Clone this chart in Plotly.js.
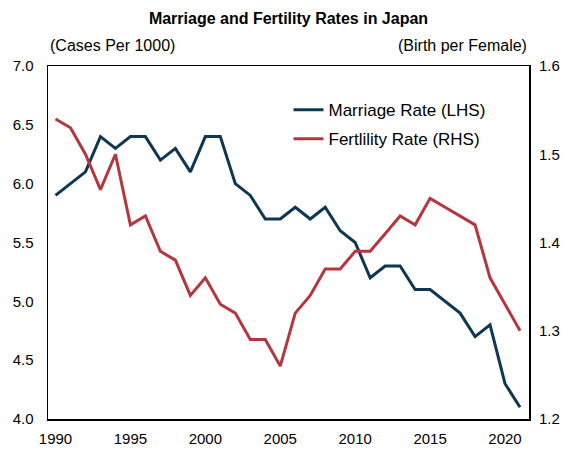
<!DOCTYPE html>
<html>
<head>
<meta charset="utf-8">
<script src="https://cdn.plot.ly/plotly-3.0.1.min.js"></script>
<style>html,body{margin:0;padding:0;background:#fff;}#chart{width:580px;height:455px;}</style>
</head>
<body>
<div id="chart"></div>
<script>
const years = [1990,1991,1992,1993,1994,1995,1996,1997,1998,1999,2000,2001,2002,2003,2004,2005,2006,2007,2008,2009,2010,2011,2012,2013,2014,2015,2016,2017,2018,2019,2020,2021];
const marriageRate = [5.9,6.0,6.1,6.4,6.3,6.4,6.4,6.2,6.3,6.1,6.4,6.4,6.0,5.9,5.7,5.7,5.8,5.7,5.8,5.6,5.5,5.2,5.3,5.3,5.1,5.1,5.0,4.9,4.7,4.8,4.3,4.1];
const fertilityRate = [1.54,1.53,1.50,1.46,1.50,1.42,1.43,1.39,1.38,1.34,1.36,1.33,1.32,1.29,1.29,1.26,1.32,1.34,1.37,1.37,1.39,1.39,1.41,1.43,1.42,1.45,1.44,1.43,1.42,1.36,1.33,1.30];
const xTicks = [1990,1995,2000,2005,2010,2015,2020];
const leftTicks = [4.0,4.5,5.0,5.5,6.0,6.5,7.0];
const rightTicks = [1.2,1.3,1.4,1.5,1.6];

const FONT = 'Liberation Sans, Arial, sans-serif';
const traces = [
  {x: years, y: marriageRate, type: 'scatter', mode: 'lines', name: 'Marriage Rate (LHS)',
   line: {color: '#0f3753', width: 3}, yaxis: 'y', legendgroup: 'a'},
  {x: years, y: fertilityRate, type: 'scatter', mode: 'lines', name: 'Fertlility Rate (RHS)',
   line: {color: '#b5363f', width: 3}, yaxis: 'y2', legendgroup: 'b'}
];
const layout = {
  width: 580, height: 455,
  margin: {l: 48, r: 51, t: 66, b: 36},
  paper_bgcolor: '#fff', plot_bgcolor: '#fff',
  font: {family: FONT, size: 15, color: '#000'},
  title: {text: '<b>Marriage and Fertility Rates in Japan</b>', font: {family: FONT, size: 16, color: '#000'},
          x: 0.5, xref: 'paper', y: 1 - 18/455, yref: 'container', yanchor: 'middle'},
  showlegend: true,
  legend: {x: 0.5, y: 0.926, xanchor: 'left', yanchor: 'top', bgcolor: 'rgba(0,0,0,0)',
           font: {family: FONT, size: 17, color: '#000'}, traceorder: 'grouped', tracegroupgap: 4, itemwidth: 30},
  xaxis: {range: [1989.5, 2021.6], tickvals: xTicks, ticktext: xTicks.map(String), showgrid: false, zeroline: false,
          showline: true, linecolor: '#000', linewidth: 1.5, mirror: true,
          ticks: 'outside', ticklen: 5, tickcolor: 'rgba(0,0,0,0)'},
  yaxis: {range: [4.0, 7.0], tickvals: leftTicks, ticktext: leftTicks.map(v => v.toFixed(1)), showgrid: false, zeroline: false,
          showline: true, linecolor: '#000', linewidth: 1.5, mirror: true,
          ticks: 'outside', ticklen: 10, tickcolor: 'rgba(0,0,0,0)'},
  yaxis2: {range: [1.2, 1.6], tickvals: rightTicks, ticktext: rightTicks.map(v => v.toFixed(1)), overlaying: 'y', side: 'right',
           showgrid: false, zeroline: false, showline: false,
           ticks: 'outside', ticklen: 6, tickcolor: 'rgba(0,0,0,0)'},
  annotations: [
    {text: '(Cases Per 1000)', xref: 'paper', yref: 'paper', x: 0, y: 1, xanchor: 'left', yanchor: 'bottom', yshift: 10,
     showarrow: false, font: {family: FONT, size: 16, color: '#000'}},
    {text: '(Birth per Female)', xref: 'paper', yref: 'paper', x: 1, y: 1, xanchor: 'right', yanchor: 'bottom', yshift: 10,
     showarrow: false, font: {family: FONT, size: 16, color: '#000'}}
  ]
};
Plotly.newPlot('chart', traces, layout, {staticPlot: true, displayModeBar: false});
</script>
</body>
</html>
